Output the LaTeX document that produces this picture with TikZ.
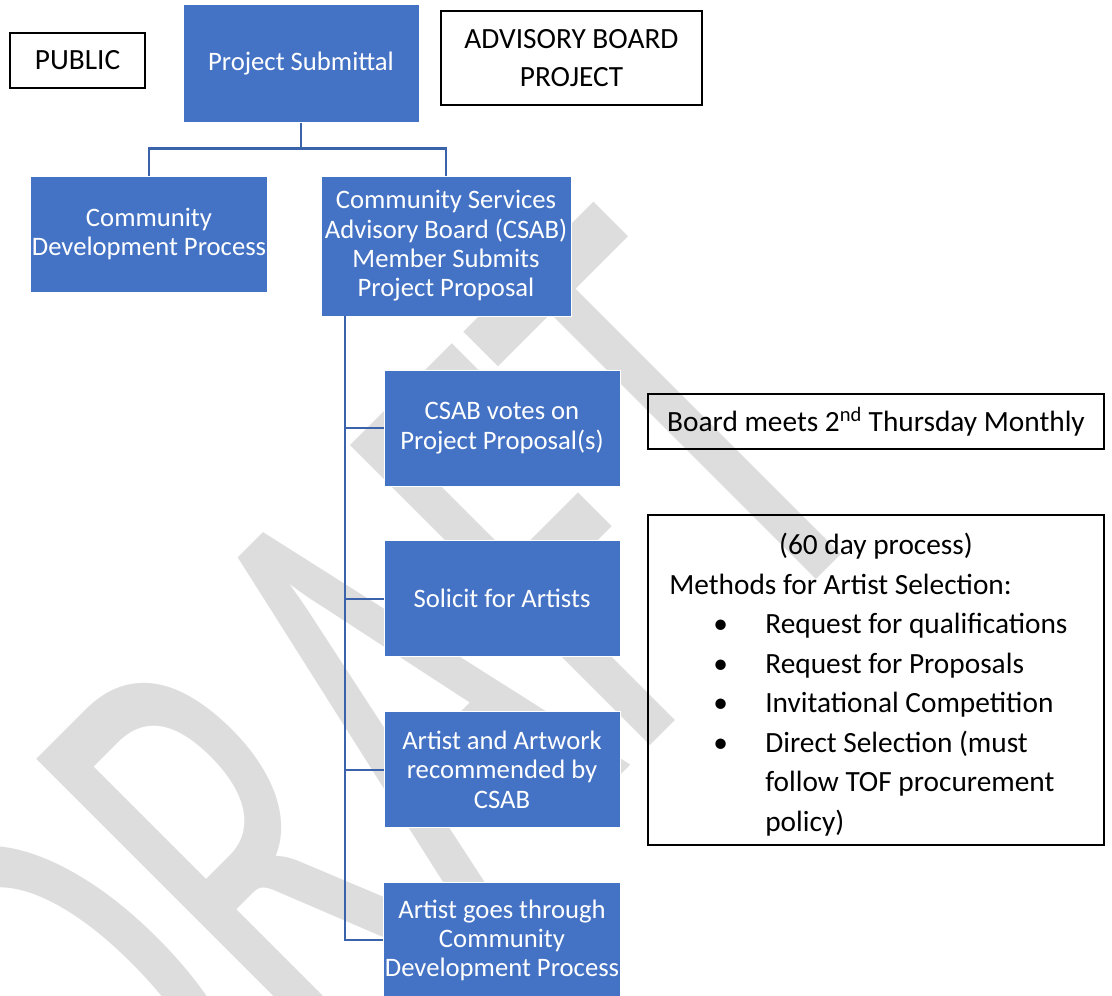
\documentclass[tikz,border=0pt]{standalone}
\usepackage{fontspec}
\setmainfont{Carlito}
\newfontfamily\wmfont[FakeStretch=0.6]{Carlito}
\usetikzlibrary{positioning}

\definecolor{boxblue}{HTML}{4472C4}
\definecolor{linkblue}{HTML}{3A63AC}
\definecolor{wmgray}{HTML}{DDDDDD}

% one line of the bulleted list in the methods box
\newcommand\bulletline[1]{\noindent\hangindent=72pt\hangafter=1\hspace*{33pt}\makebox[39pt][l]{\textbullet}#1\par}

\begin{document}
\begin{tikzpicture}[x=0.75pt,y=-0.75pt,node distance=40.5pt,
    bluebox/.style={fill=boxblue,draw=white,line width=0.6pt,text=white,align=center,
      minimum width=177pt,minimum height=87pt,inner xsep=1pt,font=\fontsize{20}{22}\selectfont},
    note/.style={draw=black,line width=1.5pt,align=center,font=\fontsize{22}{29}\selectfont},
    link/.style={draw=linkblue,line width=1.6pt}]
  \useasboundingbox (0,0) rectangle (1112,995);
  \clip (0,0) rectangle (1112,995);

  % watermark behind everything
  \node[text=wmgray,anchor=base west,rotate=45,inner sep=0pt,
    font=\wmfont\fontsize{496}{496}\selectfont] (watermark) at (144,1252) {DRAFT};

  \node[note,minimum width=101pt,minimum height=41pt] (public) at (77.5,60.5) {PUBLIC};
  \node[bluebox,minimum height=88pt] (submit) at (301,63.5) {Project Submittal};
  \node[note,minimum width=196pt,minimum height=70.5pt] (advisory) at (571.5,58) {ADVISORY BOARD\\PROJECT};

  \node[bluebox] (cdp) at (149,234) {Community\\Development Process};
  \node[bluebox,minimum width=187.5pt,minimum height=105pt] (csab) at (446,246)
    {Community Services\\Advisory Board (CSAB)\\Member Submits\\Project Proposal};

  \node[bluebox] (vote) at (502,428) {CSAB votes on\\Project Proposal(s)};
  \node[bluebox] (solicit) [below=of vote] {Solicit for Artists};
  \node[bluebox] (recommend) [below=of solicit] {Artist and Artwork\\recommended by\\CSAB};
  \node[bluebox] (through) [below=of recommend] {Artist goes through\\Community\\Development Process};

  \node[note,minimum width=342pt,minimum height=41pt] (meets) at (876,421.5)
    {Board meets 2\textsuperscript{nd} Thursday Monthly};
  \node[note,minimum width=342pt,minimum height=247.5pt,text width=310pt,align=flush left,
    font=\fontsize{22}{29.6}\selectfont] (methods) at (876,680) {%
    \centering\rule{0pt}{23pt}(60 day process)\par
    \raggedright\noindent Methods for Artist Selection:\par
    \bulletline{Request for qualifications}
    \bulletline{Request for Proposals}
    \bulletline{Invitational Competition}
    \bulletline{Direct Selection (must\newline follow TOF procurement\newline policy)}};

  \draw[link] (submit.south) -- ++(0,26) -| (cdp.north);
  \draw[link] (submit.south) -- ++(0,26) -| (csab.north);
  \coordinate (spine) at ([xshift=18pt]csab.south west);
  \foreach \n in {vote,solicit,recommend,through}
    \draw[link] (spine) |- (\n.west);
\end{tikzpicture}
\end{document}
